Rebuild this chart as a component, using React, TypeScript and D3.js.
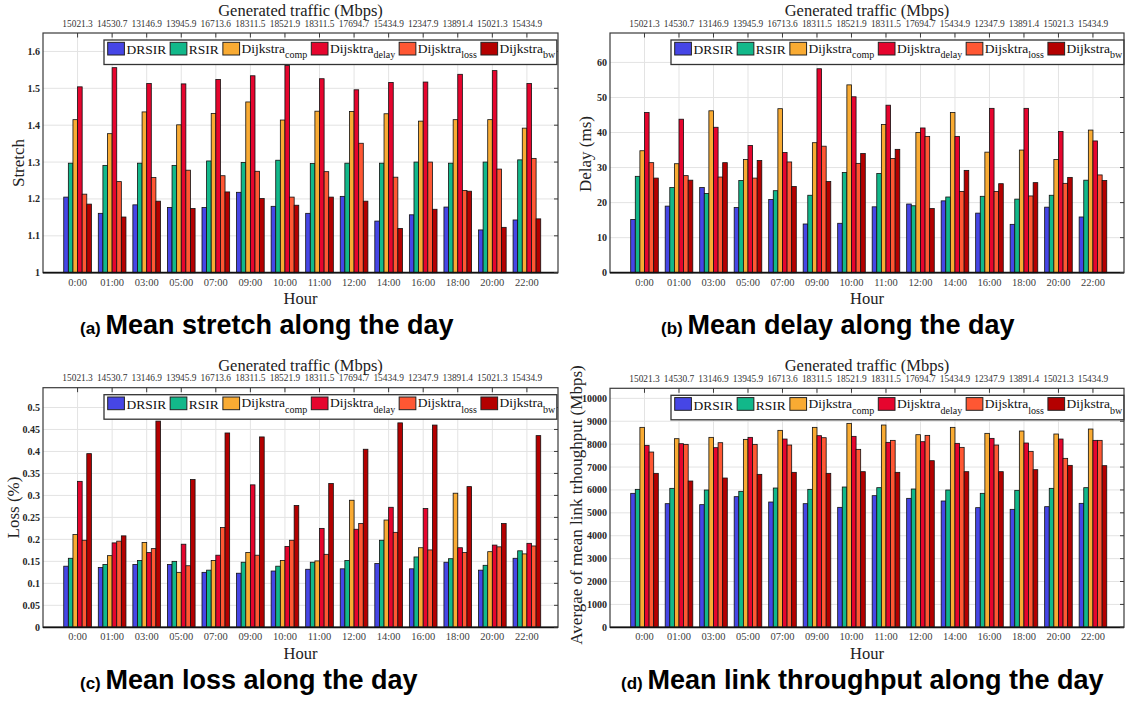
import React, { useEffect, useRef } from 'react';
import * as d3 from 'd3';

// categories (hour of day) and generated traffic on the top axis
const hours = ['0:00', '01:00', '03:00', '05:00', '07:00', '09:00', '10:00', '11:00', '12:00', '14:00', '16:00', '18:00', '20:00', '22:00'];
const traffic = ['15021.3', '14530.7', '13146.9', '13945.9', '16713.6', '18311.5', '18521.9', '18311.5', '17694.7', '15434.9', '12347.9', '13891.4', '15021.3', '15434.9'];

const seriesKeys = ['DRSIR', 'RSIR', 'comp', 'delay', 'loss', 'bw'];
const seriesColors = ['#4646e6', '#12b88a', '#f9ab33', '#e6052e', '#ff5733', '#b40000'];
const legendBase = ['DRSIR', 'RSIR', 'Dijkstra', 'Dijsktra', 'Dijsktra', 'Dijkstra'];
const legendSub = ['', '', 'comp', 'delay', 'loss', 'bw'];

// (a) mean stretch
const stretchDRSIR = [1.205, 1.161, 1.184, 1.177, 1.177, 1.218, 1.18, 1.161, 1.207, 1.14, 1.157, 1.178, 1.116, 1.143];
const stretchRSIR = [1.297, 1.291, 1.297, 1.291, 1.303, 1.299, 1.305, 1.296, 1.297, 1.297, 1.3, 1.297, 1.3, 1.306];
const stretchComp = [1.415, 1.377, 1.436, 1.401, 1.432, 1.463, 1.414, 1.438, 1.437, 1.431, 1.411, 1.415, 1.415, 1.392];
const stretchDelay = [1.504, 1.556, 1.513, 1.512, 1.524, 1.534, 1.562, 1.526, 1.496, 1.516, 1.517, 1.538, 1.548, 1.513];
const stretchLoss = [1.213, 1.247, 1.258, 1.278, 1.263, 1.275, 1.205, 1.274, 1.351, 1.259, 1.3, 1.223, 1.281, 1.31];
const stretchBw = [1.186, 1.151, 1.194, 1.174, 1.219, 1.201, 1.183, 1.205, 1.194, 1.12, 1.172, 1.221, 1.123, 1.146];
const stretchTicks = [1, 1.1, 1.2, 1.3, 1.4, 1.5, 1.6];

// (b) mean delay (ms)
const delayDRSIR = [15.2, 19.0, 24.3, 18.6, 20.9, 13.9, 14.1, 18.8, 19.6, 20.5, 17.0, 13.8, 18.7, 15.9];
const delayRSIR = [27.5, 24.3, 22.6, 26.3, 23.4, 22.1, 28.6, 28.3, 19.1, 21.6, 21.8, 21.0, 22.1, 26.4];
const delayComp = [34.8, 31.1, 46.2, 32.3, 46.8, 37.1, 53.6, 42.3, 40.0, 45.7, 34.4, 35.0, 32.3, 40.7];
const delayDelay = [45.7, 43.8, 41.5, 36.3, 34.3, 58.2, 50.2, 47.8, 41.3, 38.9, 46.9, 46.9, 40.3, 37.6];
const delayLoss = [31.4, 27.7, 27.3, 27.0, 31.6, 36.1, 31.2, 32.6, 38.9, 23.2, 23.2, 21.9, 25.5, 27.9];
const delayBw = [27.0, 26.4, 31.4, 32.0, 24.6, 26.0, 34.0, 35.2, 18.3, 29.2, 25.4, 25.7, 27.2, 26.3];
const delayTicks = [0, 10, 20, 30, 40, 50, 60];

// (c) mean loss (%)
const lossDRSIR = [0.139, 0.136, 0.143, 0.143, 0.125, 0.123, 0.128, 0.132, 0.133, 0.145, 0.133, 0.148, 0.13, 0.157];
const lossRSIR = [0.157, 0.143, 0.152, 0.15, 0.13, 0.148, 0.139, 0.148, 0.152, 0.198, 0.16, 0.156, 0.141, 0.174];
const lossComp = [0.211, 0.163, 0.193, 0.125, 0.152, 0.17, 0.152, 0.151, 0.289, 0.244, 0.181, 0.305, 0.172, 0.167];
const lossDelay = [0.332, 0.192, 0.17, 0.189, 0.164, 0.324, 0.184, 0.225, 0.223, 0.273, 0.27, 0.181, 0.187, 0.191];
const lossLoss = [0.198, 0.196, 0.179, 0.14, 0.227, 0.164, 0.198, 0.166, 0.236, 0.216, 0.176, 0.17, 0.183, 0.185];
const lossBw = [0.395, 0.208, 0.469, 0.336, 0.442, 0.433, 0.277, 0.327, 0.405, 0.465, 0.46, 0.32, 0.236, 0.436];
const lossTicks = [0, 0.05, 0.1, 0.15, 0.2, 0.25, 0.3, 0.35, 0.4, 0.45, 0.5];

// (d) mean link throughput (Mbps)
const tputDRSIR = [5852, 5400, 5357, 5706, 5473, 5400, 5240, 5750, 5633, 5517, 5226, 5153, 5269, 5415];
const tputRSIR = [6026, 6070, 5997, 5939, 6084, 6026, 6128, 6099, 6041, 5997, 5852, 5983, 6070, 6099];
const tputComp = [8734, 8239, 8297, 8209, 8603, 8734, 8908, 8836, 8413, 8734, 8472, 8574, 8443, 8661];
const tputDelay = [7948, 8020, 7846, 8297, 8224, 8370, 8341, 8079, 8108, 8035, 8253, 8050, 8224, 8166];
const tputLoss = [7656, 7991, 8064, 7991, 7962, 8282, 7773, 8166, 8384, 7860, 7962, 7686, 7380, 8166];
const tputBw = [6725, 6390, 6521, 6681, 6769, 6725, 6798, 6769, 7278, 6798, 6798, 6885, 7074, 7060];
const tputTicks = [0, 1000, 2000, 3000, 4000, 5000, 6000, 7000, 8000, 9000, 10000];

const SERIF = "'Liberation Serif', 'Times New Roman', serif";
const SANS = "'Liberation Sans', Arial, sans-serif";

const panels = [
  {
    tag: '(a)', caption: 'Mean stretch along the day', capX: 80, capY: 334,
    left: 43, right: 558, top: 33, bottom: 272.7, yDomain: [1, 1.65], ticks: stretchTicks,
    ylabel: 'Stretch', ylabX: 24, ylabY: 163,
    series: [stretchDRSIR, stretchRSIR, stretchComp, stretchDelay, stretchLoss, stretchBw],
  },
  {
    tag: '(b)', caption: 'Mean delay along the day', capX: 661, capY: 334,
    left: 610, right: 1124, top: 33, bottom: 272.7, yDomain: [0, 68.4], ticks: delayTicks,
    ylabel: 'Delay (ms)', ylabX: 591, ylabY: 154,
    series: [delayDRSIR, delayRSIR, delayComp, delayDelay, delayLoss, delayBw],
  },
  {
    tag: '(c)', caption: 'Mean loss along the day', capX: 80, capY: 689,
    left: 43, right: 558, top: 387.7, bottom: 627.3, yDomain: [0, 0.545], ticks: lossTicks,
    ylabel: 'Loss (%)', ylabX: 18.5, ylabY: 507.5,
    series: [lossDRSIR, lossRSIR, lossComp, lossDelay, lossLoss, lossBw],
  },
  {
    tag: '(d)', caption: 'Mean link throughput along the day', capX: 621, capY: 689,
    left: 610, right: 1124, top: 388.3, bottom: 627.3, yDomain: [0, 10440], ticks: tputTicks,
    ylabel: 'Avergae of mean link trhoughput (Mbps)', ylabX: 582, ylabY: 505,
    series: [tputDRSIR, tputRSIR, tputComp, tputDelay, tputLoss, tputBw],
  },
];

function drawPanel(svg, p) {
  const g = svg.append('g');
  const x = d3.scaleLinear().domain([0, 14.9]).range([p.left, p.right]);
  const inner = d3.scaleBand().domain(seriesKeys).range([-0.4, 0.4]).padding(0);
  const y = d3.scaleLinear().domain(p.yDomain).range([p.bottom, p.top]);
  const bw = x(inner.bandwidth()) - x(0);

  // grid
  g.selectAll('.hgrid')
    .data(p.ticks.filter((t) => t > p.yDomain[0]))
    .enter()
    .append('line')
    .attr('x1', p.left).attr('x2', p.right)
    .attr('y1', (d) => y(d)).attr('y2', (d) => y(d))
    .attr('stroke', '#e3e3e3').attr('stroke-width', 1);
  g.selectAll('.vgrid')
    .data(hours)
    .enter()
    .append('line')
    .attr('x1', (d, i) => x(i + 1)).attr('x2', (d, i) => x(i + 1))
    .attr('y1', p.top).attr('y2', p.bottom)
    .attr('stroke', '#e3e3e3').attr('stroke-width', 1);

  // bars
  seriesKeys.forEach((key, s) => {
    g.selectAll('.bar-' + key)
      .data(p.series[s])
      .enter()
      .append('rect')
      .attr('x', (d, i) => x(i + 1 + inner(key)))
      .attr('y', (d) => y(d))
      .attr('width', bw)
      .attr('height', (d) => p.bottom - y(d))
      .attr('fill', seriesColors[s])
      .attr('stroke', '#111')
      .attr('stroke-width', 0.8);
  });

  // frame
  g.append('rect')
    .attr('x', p.left).attr('y', p.top)
    .attr('width', p.right - p.left).attr('height', p.bottom - p.top)
    .attr('fill', 'none').attr('stroke', '#3a3a3a').attr('stroke-width', 1.2);
  g.append('line')
    .attr('x1', p.left).attr('x2', p.right)
    .attr('y1', p.bottom).attr('y2', p.bottom)
    .attr('stroke', '#111').attr('stroke-width', 1.8);

  // right ticks, top ticks
  g.selectAll('.rtick')
    .data(p.ticks)
    .enter()
    .append('line')
    .attr('x1', p.right).attr('x2', p.right - 4)
    .attr('y1', (d) => y(d)).attr('y2', (d) => y(d))
    .attr('stroke', '#3a3a3a');
  g.selectAll('.ttick')
    .data(traffic)
    .enter()
    .append('line')
    .attr('x1', (d, i) => x(i + 1)).attr('x2', (d, i) => x(i + 1))
    .attr('y1', p.top).attr('y2', p.top + 4.5)
    .attr('stroke', '#3a3a3a');

  // y tick labels
  g.selectAll('.ylab')
    .data(p.ticks)
    .enter()
    .append('text')
    .attr('x', p.left - 3)
    .attr('y', (d) => y(d) + 3.5)
    .attr('text-anchor', 'end')
    .attr('font-family', SERIF).attr('font-size', 10).attr('font-weight', 'bold')
    .attr('fill', '#262626')
    .text((d) => String(d));

  // hour labels
  g.selectAll('.xlab')
    .data(hours)
    .enter()
    .append('text')
    .attr('x', (d, i) => x(i + 1))
    .attr('y', p.bottom + 13)
    .attr('text-anchor', 'middle')
    .attr('font-family', SERIF).attr('font-size', 10.5)
    .attr('fill', '#404040')
    .text((d) => d);
  g.append('text')
    .attr('x', (p.left + p.right) / 2).attr('y', p.bottom + 31.5)
    .attr('text-anchor', 'middle')
    .attr('font-family', SERIF).attr('font-size', 16.5).attr('fill', '#222')
    .text('Hour');

  // traffic labels on top
  g.selectAll('.tlab')
    .data(traffic)
    .enter()
    .append('text')
    .attr('x', (d, i) => x(i + 1))
    .attr('y', p.top - 6.3)
    .attr('text-anchor', 'middle')
    .attr('font-family', SERIF).attr('font-size', 9.4)
    .attr('fill', '#333')
    .text((d) => d);
  g.append('text')
    .attr('x', (p.left + p.right) / 2).attr('y', p.top - 17)
    .attr('text-anchor', 'middle')
    .attr('font-family', SERIF).attr('font-size', 16.5).attr('fill', '#222')
    .text('Generated traffic (Mbps)');

  // y axis label
  g.append('text')
    .attr('transform', `translate(${p.ylabX},${p.ylabY}) rotate(-90)`)
    .attr('text-anchor', 'middle')
    .attr('font-family', SERIF).attr('font-size', 17).attr('fill', '#222')
    .text(p.ylabel);

  // legend
  const lg = g.append('g').attr('transform', `translate(${p.left + 61},${p.top + 7})`);
  const box = lg.append('rect')
    .attr('x', 0).attr('y', 0).attr('height', 24.5)
    .attr('fill', '#fff').attr('stroke', '#333').attr('stroke-width', 1.3);
  let cx = 3.7;
  seriesKeys.forEach((key, s) => {
    lg.append('rect')
      .attr('x', cx).attr('y', 2.3)
      .attr('width', 16.7).attr('height', 12.7)
      .attr('fill', seriesColors[s]).attr('stroke', '#222').attr('stroke-width', 1);
    cx += 18.7;
    const hasSub = legendSub[s] !== '';
    const t = lg.append('text')
      .attr('x', cx).attr('y', hasSub ? 12.5 : 14.3)
      .attr('font-family', SERIF).attr('font-size', 13.5).attr('fill', '#111')
      .text(legendBase[s]);
    cx += t.node().getComputedTextLength();
    if (hasSub) {
      const st = lg.append('text')
        .attr('x', cx).attr('y', 18.3)
        .attr('font-family', SERIF).attr('font-size', 10).attr('fill', '#111')
        .text(legendSub[s]);
      cx += st.node().getComputedTextLength();
    }
    cx += 4;
  });
  box.attr('width', cx - 2.5);

  // caption
  const cap = svg.append('text')
    .attr('x', p.capX).attr('y', p.capY)
    .attr('font-family', SANS).attr('font-weight', 'bold').attr('fill', '#000');
  cap.append('tspan').attr('font-size', 17).text(p.tag + ' ');
  cap.append('tspan').attr('font-size', 27).text(p.caption);
}

const App = () => {
  const ref = useRef(null);

  useEffect(() => {
    const svg = d3.select(ref.current);
    svg.selectAll('*').remove();
    svg.append('rect').attr('width', 1126).attr('height', 710).attr('fill', '#fff');
    panels.forEach((p) => drawPanel(svg, p));
  }, []);

  return (
    <div style={{ position: 'absolute', left: 0, top: 0 }}>
      <svg ref={ref} width={1126} height={710} style={{ display: 'block' }} />
    </div>
  );
};

export default App;
